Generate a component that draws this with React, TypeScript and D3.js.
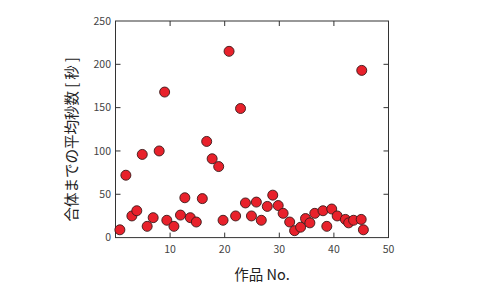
import React from "react";
import * as d3 from "d3";

const workNo: number[] = [
  0.8, 1.9, 3.0, 3.9, 4.9, 5.8, 6.9, 8.0, 9.0, 9.4, 10.7, 11.9, 12.7, 13.7, 14.8, 15.9,
  16.7, 17.7, 18.9, 19.7, 20.8, 22.0, 22.9, 23.8, 24.9, 25.8, 26.7, 27.8, 28.8, 29.8,
  30.7, 31.9, 32.8, 33.9, 34.8, 35.6, 36.5, 38.0, 38.7, 39.6, 40.6, 42.1, 42.7, 43.6,
  45.0, 45.1, 45.4,
];
const avgSeconds: number[] = [
  9, 72, 25, 31, 96, 13, 23, 100, 168, 20, 13, 26, 46, 23, 18, 45, 111, 91, 82, 20,
  215, 25, 149, 40, 25, 41, 20, 36, 49, 37, 28, 18, 8, 12, 22, 17, 28, 31, 13, 33,
  25, 21, 17, 20, 21, 193, 9,
];
const xTicks: number[] = [10, 20, 30, 40, 50];
const yTicks: number[] = [0, 50, 100, 150, 200, 250];
const xLabel = "作品 No.";
const yLabel = "合体までの平均秒数 [ 秒 ]";

export default function App() {
  const W = 488, H = 300;
  const left = 115.5, right = 388.5, top = 21, bottom = 237.6;
  const x = d3.scaleLinear().domain([0, 50]).range([left, right]);
  const y = d3.scaleLinear().domain([0, 250]).range([bottom, top]);
  const axisColor = "#333";
  const textColor = "#444";
  const tl = 5;
  const font = "'Noto Sans CJK JP', 'Noto Sans', sans-serif";
  const data = workNo.map((v, i) => ({ x: v, y: avgSeconds[i] }));
  return (
    <svg width={W} height={H} style={{ position: "absolute", left: 0, top: 0 }}>
      <rect x={0} y={0} width={W} height={H} fill="#fff" />
      <rect x={left} y={top} width={right - left} height={bottom - top} fill="none" stroke={axisColor} strokeWidth={1} />
      {xTicks.map((t) => (
        <g key={"x" + t}>
          {t < 50 && (
            <>
              <line x1={x(t)} x2={x(t)} y1={bottom} y2={bottom - tl} stroke={axisColor} />
              <line x1={x(t)} x2={x(t)} y1={top} y2={top + tl} stroke={axisColor} />
            </>
          )}
          <text x={x(t)} y={253} textAnchor="middle" fontSize={10.5} fill={textColor} fontFamily={font}>
            {t}
          </text>
        </g>
      ))}
      {yTicks.map((t) => (
        <g key={"y" + t}>
          {t > 0 && t < 250 && (
            <>
              <line x1={left} x2={left + tl} y1={y(t)} y2={y(t)} stroke={axisColor} />
              <line x1={right} x2={right - tl} y1={y(t)} y2={y(t)} stroke={axisColor} />
            </>
          )}
          <text x={111} y={y(t)} dy="0.35em" textAnchor="end" fontSize={10.5} fill={textColor} fontFamily={font}>
            {t}
          </text>
        </g>
      ))}
      {data.map((d, i) => (
        <circle key={i} cx={x(d.x)} cy={y(d.y)} r={5} fill="#e8212b" stroke="#3a1a1a" strokeWidth={0.9} />
      ))}
      <text x={262} y={280} textAnchor="middle" fontSize={14.5} fill="#222" fontFamily={font}>
        {xLabel}
      </text>
      <text
        transform={`translate(77,${(top + bottom) / 2 + 10}) rotate(-90)`}
        textAnchor="middle"
        fontSize={14.5}
        fill="#222"
        fontFamily={font}
      >
        {yLabel}
      </text>
    </svg>
  );
}
